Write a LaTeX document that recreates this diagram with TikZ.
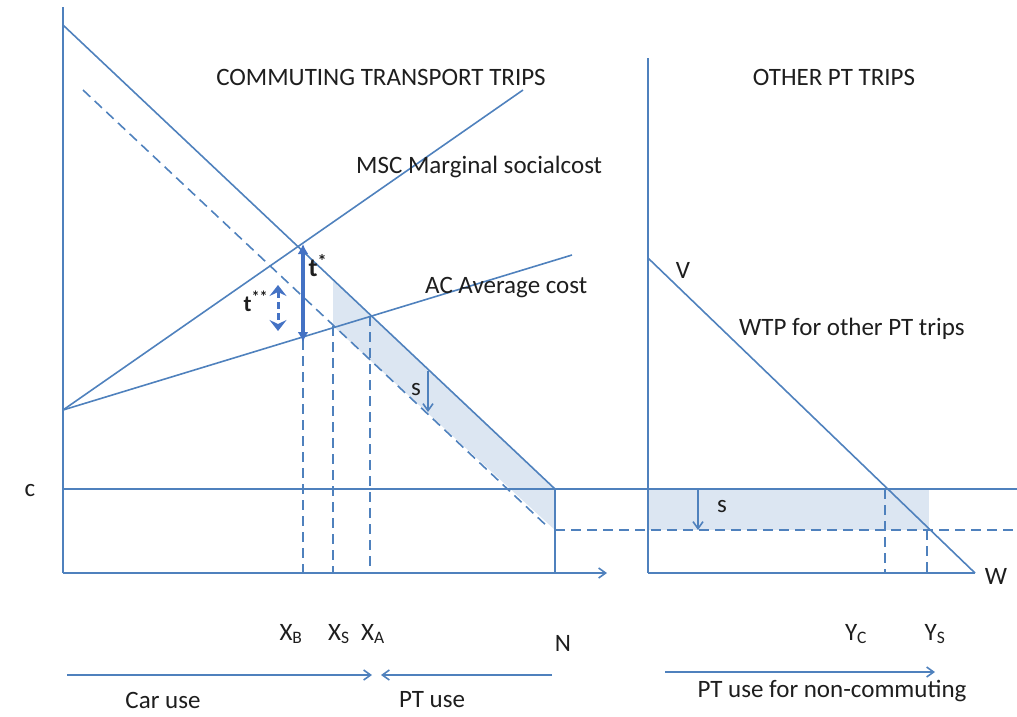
\documentclass[tikz,border=0pt]{standalone}
\usepackage{fontspec}
\setmainfont{Carlito}
\usetikzlibrary{arrows.meta}
\definecolor{lblue}{RGB}{79,129,189}
\definecolor{dblue}{RGB}{68,114,196}
\definecolor{shadeblue}{RGB}{220,230,242}
\definecolor{txt}{RGB}{30,30,30}
\tikzset{
  ln/.style={draw=lblue, line width=1.6pt},
  dln/.style={draw=lblue, line width=1.6pt, dash pattern=on 10pt off 6pt},
  lbl/.style={text=txt, font=\fontsize{25}{27}\selectfont, inner sep=0pt},
  chev/.style={-{Straight Barb[length=7pt,width=10pt]}},
}
\begin{document}
\begin{tikzpicture}[x=1pt,y=-1pt]
\useasboundingbox (0,0) rectangle (1017,716);
% coordinates
\coordinate (O1) at (63,573);
\coordinate (Y1top) at (63,7);
\coordinate (X1end) at (607,573);
\coordinate (D0) at (63,25);
\coordinate (D1) at (555,489);
\coordinate (S0) at (83,90);
\coordinate (S1) at (549,528);
\coordinate (M0) at (63,410);
\coordinate (M1) at (523,90);
\coordinate (A1) at (572,255);
\coordinate (C0) at (63,489);
\coordinate (C1) at (1017,489);
\coordinate (N0) at (555,573);
\coordinate (H0) at (555,530);
\coordinate (H1) at (1017,530);
\coordinate (O2) at (648,573);
\coordinate (Y2top) at (648,58);
\coordinate (X2end) at (975,573);
\coordinate (V0) at (648,258);
\coordinate (W0) at (975,573);
% shading
\fill[shadeblue] (333,280.5) -- (D1) -- (555,530) -- (333,326) -- cycle;
\fill[shadeblue] (648,489) rectangle (929,530);
% left panel axes
\draw[ln] (Y1top) -- (O1);
\draw[ln,chev] (O1) -- (X1end);
% curves
\draw[ln] (D0) -- (D1);
\draw[dln] (S0) -- (S1);
\draw[ln] (M0) -- (M1);
\draw[ln] (M0) -- (A1);
\draw[ln] (C0) -- (C1);
\draw[ln] (D1) -- (N0);
\draw[dln] (H0) -- (H1);
% vertical dashed
\draw[dln] (303,340) -- (303,573);
\draw[dln] (333,326) -- (333,573);
\draw[dln] (370,316) -- (370,573);
% t* arrow
\draw[draw=dblue, line width=3.6pt, {Latex[length=10pt,width=11pt]}-{Latex[length=10pt,width=11pt]}] (303,244) -- (303,342);
\node[lbl, font=\bfseries\fontsize{26}{28}\selectfont] (tstar) at (318,266) {t\textsuperscript{*}};
% t** arrow
\draw[draw=dblue, line width=3pt, dash pattern=on 7pt off 4pt, {Stealth[length=11pt,width=17pt,inset=4pt]}-{Stealth[length=11pt,width=17pt,inset=4pt]}] (278,285) -- (278,331);
\node[lbl, font=\bfseries\fontsize{23}{25}\selectfont] (tss) at (256,301) {t\textsuperscript{**}};
% s arrow left
\draw[draw=lblue, line width=1.6pt, -{Straight Barb[length=7pt,width=10pt]}] (428,371) -- (428,412);
\node[lbl] (s1) at (416,390) {s};
% right panel
\draw[ln] (Y2top) -- (O2);
\draw[ln] (O2) -- (X2end);
\draw[ln] (V0) -- (W0);
\draw[dln] (885,489) -- (885,573);
\draw[dln] (927,530) -- (927,573);
\draw[draw=lblue, line width=1.6pt, -{Straight Barb[length=7pt,width=10pt]}] (698,489) -- (698,530);
\node[lbl] (s2) at (722,507) {s};
% labels
\node[lbl] (title1) at (381,77) {COMMUTING TRANSPORT TRIPS};
\node[lbl] (title2) at (834,77) {OTHER PT TRIPS};
\node[lbl, anchor=west] (msc) at (356,167) {MSC Marginal socialcost};
\node[lbl, anchor=west] (ac) at (425,288) {AC Average cost};
\node[lbl] (c) at (30,491) {c};
\node[lbl] (V) at (683,270) {V};
\node[lbl, anchor=west] (wtp) at (739,329) {WTP for other PT trips};
\node[lbl] (W) at (996,576) {W};
\node[lbl] (xb) at (291,634) {X\textsubscript{B}};
\node[lbl] (xs) at (339,634) {X\textsubscript{S}};
\node[lbl] (xa) at (373,634) {X\textsubscript{A}};
\node[lbl] (N) at (563,643) {N};
\node[lbl] (yc) at (856,634) {Y\textsubscript{C}};
\node[lbl] (ys) at (935,634) {Y\textsubscript{S}};
% bottom arrows
\coordinate (ca0) at (67,675);
\coordinate (ca1) at (372,675);
\coordinate (pa0) at (552,675);
\coordinate (pa1) at (381,675);
\coordinate (na0) at (665,672);
\coordinate (na1) at (935,672);
\draw[ln,chev] (ca0) -- (ca1);
\draw[ln,chev] (pa0) -- (pa1);
\draw[ln,chev] (na0) -- (na1);
\node[lbl] (car) at (163,700) {Car use};
\node[lbl] (pt) at (432,700) {PT use};
\node[lbl] (ptn) at (832,691) {PT use for non-commuting};
\end{tikzpicture}
\end{document}
